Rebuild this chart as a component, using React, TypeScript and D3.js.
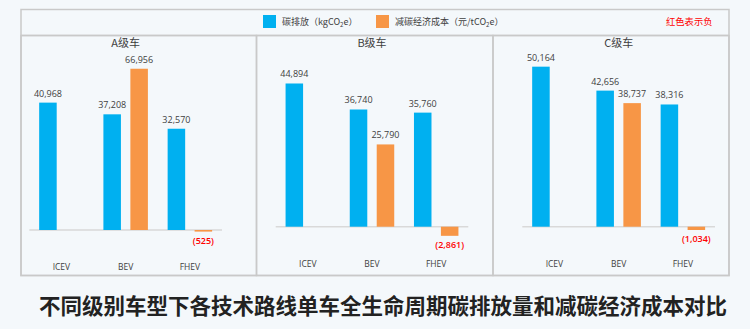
import React from "react";
import * as d3 from "d3";

const categories = ["ICEV", "BEV", "FHEV"];
const panelTitles = ["A级车", "B级车", "C级车"];
const emissionA = [40968, 37208, 32570];
const costA = [null, 66956, -525];
const emissionB = [44894, 36740, 35760];
const costB = [null, 25790, -2861];
const emissionC = [50164, 42656, 38316];
const costC = [null, 38737, -1034];
const legendLabels = ["碳排放（kgCO", "减碳经济成本（元/tCO"];
const noteText = "红色表示负";
const chartTitle = "不同级别车型下各技术路线单车全生命周期碳排放量和减碳经济成本对比";

const W = 750;
const H = 329;
const BLUE = "#00b0f0";
const ORANGE = "#f79646";
const BORDER = "#c9c9c9";
const TEXT = "#404040";
const FONT = "'Open Sans', 'Noto Sans CJK SC', sans-serif";
const CJK = "'Noto Sans CJK SC', 'Noto Sans', sans-serif";

const panels = [
  { title: panelTitles[0], blue: emissionA, orange: costA, x0: 21, x1: 256.5, px0: 29.3, px1: 222, base: 230, blueMax: 55000, orangeMax: 71000 },
  { title: panelTitles[1], blue: emissionB, orange: costB, x0: 256.5, x1: 493, px0: 275.7, px1: 468.3, base: 226.7, blueMax: 52570, orangeMax: 52570 },
  { title: panelTitles[2], blue: emissionC, orange: costC, x0: 493, x1: 729, px0: 522.3, px1: 715, base: 226.7, blueMax: 52570, orangeMax: 52570 },
];
const TOP = 59;
const fmt = d3.format(",");

function Panel({ p }: { p: any }) {
  const x = d3.scaleBand<string>().domain(categories).range([p.px0, p.px1]);
  const sub = d3.scaleBand<string>().domain(["b", "o"]).range([0, x.bandwidth()]).paddingInner(0.35).paddingOuter(0.366);
  const yB = d3.scaleLinear().domain([0, p.blueMax]).range([p.base, TOP]);
  const yO = d3.scaleLinear().domain([0, p.orangeMax]).range([p.base, TOP]);
  const bars: any[] = [];
  categories.forEach((c, i) => {
    const series = [
      { key: "b", v: p.blue[i], y: yB, color: BLUE },
      { key: "o", v: p.orange[i], y: yO, color: ORANGE },
    ];
    series.forEach((s) => {
      if (s.v === null || s.v === undefined) return;
      const bx = (x(c) as number) + (sub(s.key) as number);
      const bw = sub.bandwidth();
      const y0 = s.y(0);
      const y1 = s.y(s.v);
      const top = Math.min(y0, y1);
      const h = Math.max(Math.abs(y1 - y0), 1.6);
      const neg = s.v < 0;
      bars.push(
        <g key={c + s.key}>
          <rect x={bx} y={top} width={bw} height={h} fill={s.color} />
          <text
            x={bx + bw / 2}
            y={neg ? top + h + 12 : top - 6}
            textAnchor="middle"
            fontSize={9}
            fontFamily={FONT}
            fontWeight={neg ? 600 : 400}
            fill={neg ? "#ff0000" : TEXT}
          >
            {neg ? `(${fmt(-s.v)})` : fmt(s.v)}
          </text>
        </g>
      );
    });
  });
  return (
    <g>
      <rect x={p.x0} y={35.5} width={p.x1 - p.x0} height={240} fill="none" stroke={BORDER} strokeWidth={1.5} />
      <text x={(p.px0 + p.px1) / 2} y={47} textAnchor="middle" fontSize={11} fontFamily={CJK} fill={TEXT}>
        {p.title}
      </text>
      <line x1={p.px0} x2={p.px1} y1={p.base} y2={p.base} stroke="#d9d9d9" strokeWidth={1.5} />
      {bars}
      {categories.map((c) => (
        <text key={c} x={(x(c) as number) + x.bandwidth() / 2} y={p.base + 40} textAnchor="middle" fontSize={8.5} fontFamily={FONT} fill={TEXT}>
          {c}
        </text>
      ))}
    </g>
  );
}

export default function App() {
  return (
    <svg width={W} height={H} style={{ position: "absolute", left: 0, top: 0, background: "#f4f8fb" }}>
      <rect x={0} y={0} width={W} height={H} fill="#f4f8fb" />
      <rect x={21} y={9.5} width={708} height={266} fill="#f4f8fb" stroke={BORDER} strokeWidth={1.5} />
      <line x1={21} x2={729} y1={35.5} y2={35.5} stroke={BORDER} strokeWidth={1.5} />
      <rect x={263} y={15} width={13} height={13} fill={BLUE} />
      <text x={282} y={24.5} fontSize={9} fontFamily={CJK} fill={TEXT}>
        {legendLabels[0]}
        <tspan fontSize={6} dy={2}>2</tspan>
        <tspan dy={-2}>e）</tspan>
      </text>
      <rect x={376} y={15} width={13} height={13} fill={ORANGE} />
      <text x={395} y={24.5} fontSize={9} fontFamily={CJK} fill={TEXT}>
        {legendLabels[1]}
        <tspan fontSize={6} dy={2}>2</tspan>
        <tspan dy={-2}>e）</tspan>
      </text>
      <text x={666} y={24.5} fontSize={9.3} fontFamily={CJK} fill="#ff0000">
        {noteText}
      </text>
      {panels.map((p) => (
        <Panel key={p.title} p={p} />
      ))}
      <text x={383} y={313.5} textAnchor="middle" fontSize={21.5} fontWeight={700} fontFamily={CJK} fill="#222">
        {chartTitle}
      </text>
    </svg>
  );
}
